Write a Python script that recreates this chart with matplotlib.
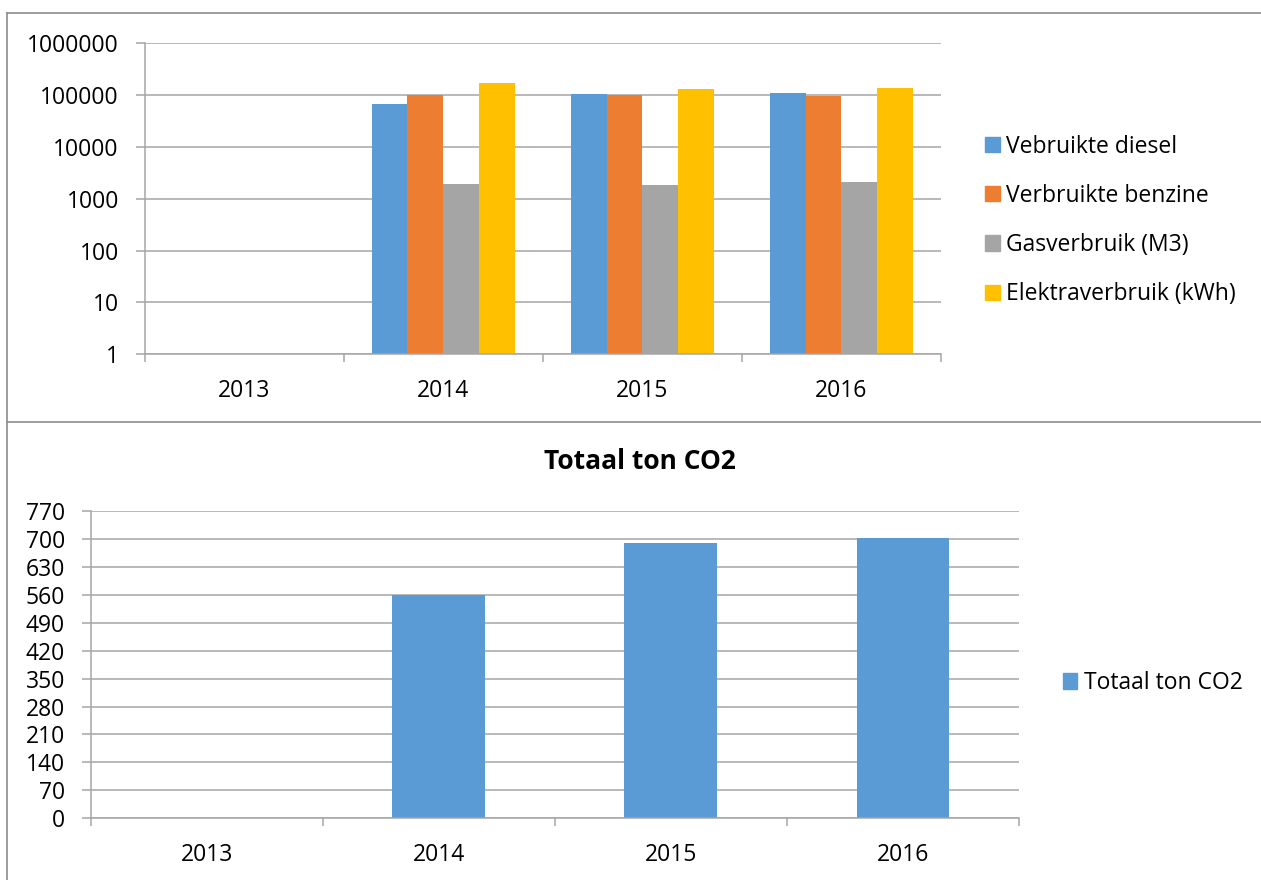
import numpy as np
import matplotlib
matplotlib.use('Agg')
import matplotlib.pyplot as plt
from matplotlib.lines import Line2D
from matplotlib.ticker import FixedLocator, NullLocator

# data
years = ['2013', '2014', '2015', '2016']
diesel = [np.nan, 68000, 106000, 109000]
benzine = [np.nan, 100000, 99500, 97500]
gas = [np.nan, 1900, 1810, 2090]
elektra = [np.nan, 168000, 130000, 135000]
series_names = ['Vebruikte diesel', 'Verbruikte benzine', 'Gasverbruik (M3)', 'Elektraverbruik (kWh)']
co2 = [np.nan, 559, 691, 703]
log_ticks = [1, 10, 100, 1000, 10000, 100000, 1000000]
lin_ticks = list(range(0, 771, 70))

colors = ['#5B9BD5', '#ED7D31', '#A5A5A5', '#FFC000']
grid_c = '#A6A6A6'
border_c = '#8C8C8C'

plt.rcParams['font.family'] = ['Open Sans', 'DejaVu Sans']
plt.rcParams['font.size'] = 16.5

W, H = 1261, 880
fig = plt.figure(figsize=(W / 100, H / 100), dpi=100)


def px_rect(l, t, r, b):
    return [l / W, 1 - b / H, (r - l) / W, (b - t) / H]


def style_axes(ax, n):
    for s in ['top', 'right']:
        ax.spines[s].set_visible(False)
    for s in ['left', 'bottom']:
        ax.spines[s].set_color(grid_c)
        ax.spines[s].set_linewidth(1.1)
    ax.set_xlim(-0.5, n - 0.5)
    ax.set_xticks(range(n))
    ax.set_xticklabels(years)
    ax.set_xticks(np.arange(-0.5, n, 1.0), minor=True)
    ax.tick_params(axis='x', which='major', length=0, pad=18)
    ax.tick_params(axis='x', which='minor', length=6, width=1.1, color=grid_c)
    ax.tick_params(axis='y', which='major', length=6.5, width=1.1, color=grid_c, pad=12)
    ax.grid(axis='y', color=grid_c, linewidth=1.1)
    ax.set_axisbelow(True)


# top chart: log scale consumption
ax1 = fig.add_axes(px_rect(144.6, 43.3, 941, 354.3))
x = np.arange(len(years))
w = 0.18
for i, vals in enumerate([diesel, benzine, gas, elektra]):
    ax1.bar(x + (i - 1.5) * w, vals, width=w, color=colors[i], bottom=1)
ax1.set_yscale('log')
ax1.set_ylim(1, 1000000)
ax1.yaxis.set_major_locator(FixedLocator(log_ticks))
ax1.yaxis.set_minor_locator(NullLocator())
ax1.set_yticklabels([str(t) for t in log_ticks])
style_axes(ax1, len(years))

fig.legend(handles=[plt.Rectangle((0, 0), 1, 1, color=c) for c in colors],
           labels=series_names, loc='center left',
           bbox_to_anchor=(985 / W, 1 - 220.5 / H), frameon=False,
           borderpad=0, borderaxespad=0, handlelength=0.65, handleheight=0.65,
           handletextpad=0.27, labelspacing=1.1)

# bottom chart: total CO2
ax2 = fig.add_axes(px_rect(90.7, 511, 1019, 818.3))
ax2.bar(x, co2, width=0.4, color=colors[0])
ax2.set_ylim(0, 770)
ax2.set_yticks(lin_ticks)
style_axes(ax2, len(years))
fig.text(640 / W, 1 - 461.7 / H, 'Totaal ton CO2', ha='center', va='center',
         fontsize=19, fontweight='bold')
fig.legend(handles=[plt.Rectangle((0, 0), 1, 1, color=colors[0])],
           labels=['Totaal ton CO2'], loc='center left',
           bbox_to_anchor=(1062.5 / W, 1 - 683 / H), frameon=False,
           borderpad=0, borderaxespad=0, handlelength=0.65, handleheight=0.65,
           handletextpad=0.27)

# chart frames
for xs, ys in [([7, W], [13.3, 13.3]), ([7, 7], [13.3, H]), ([7, W], [421.7, 421.7])]:
    fig.add_artist(Line2D([v / W for v in xs], [1 - v / H for v in ys],
                          color=border_c, linewidth=1.2))

fig.savefig('out.png', dpi=100)
